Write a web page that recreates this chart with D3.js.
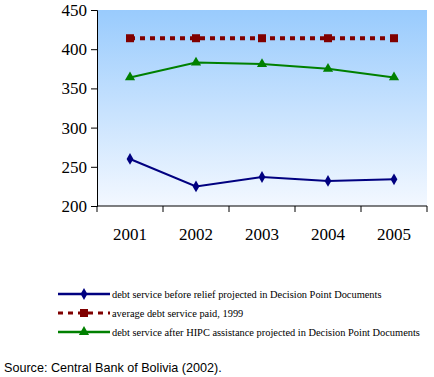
<!DOCTYPE html>
<html>
<head>
<meta charset="utf-8">
<script src="https://cdn.jsdelivr.net/npm/d3@7"></script>
<style>
  body { margin: 0; background: #fff; }
  svg { display: block; }
  .serif { font-family: 'Liberation Serif', 'DejaVu Serif', serif; }
  .sans { font-family: 'Liberation Sans', Arial, sans-serif; }
</style>
</head>
<body>
<div id="chart"></div>
<script>
// donnees
const years = ["2001", "2002", "2003", "2004", "2005"];
const beforeRelief = [260, 225, 237, 232, 234];
const avgPaid1999 = [414, 414, 414, 414, 414];
const afterHipc = [364, 383, 381, 375, 364];
const yTicks = [200, 250, 300, 350, 400, 450];
const legendLabels = [
  "debt service before relief projected in Decision Point Documents",
  "average debt service paid, 1999",
  "debt service after HIPC assistance projected in Decision Point Documents"
];

const width = 434, height = 377;
const margin = { top: 10, left: 97, right: 7 };
const plotBottom = 206;

const svg = d3.select("#chart").append("svg")
  .attr("width", width)
  .attr("height", height);

const defs = svg.append("defs");
const grad = defs.append("linearGradient")
  .attr("id", "bg").attr("x1", 0).attr("y1", 0).attr("x2", 0).attr("y2", 1);
grad.append("stop").attr("offset", "0%").attr("stop-color", "#99cbfd");
grad.append("stop").attr("offset", "100%").attr("stop-color", "#f3f8ff");

const x = d3.scaleBand()
  .domain(years)
  .range([margin.left, width - margin.right]);

const y = d3.scaleLinear()
  .domain([200, 450])
  .range([plotBottom, margin.top]);

// fond degrade
svg.append("rect")
  .attr("x", margin.left).attr("y", margin.top)
  .attr("width", width - margin.right - margin.left)
  .attr("height", plotBottom - margin.top)
  .attr("fill", "url(#bg)");

// axe Y
const yAxis = svg.append("g")
  .attr("transform", "translate(" + margin.left + ",0)")
  .call(d3.axisLeft(y).tickValues(yTicks).tickSize(6).tickPadding(4));
yAxis.attr("font-family", null);
yAxis.selectAll("text")
  .attr("class", "serif")
  .style("font-size", "17px")
  .attr("fill", "#000");

// axe X
const xAxis = svg.append("g")
  .attr("transform", "translate(0," + plotBottom + ")")
  .call(d3.axisBottom(x).tickSize(0).tickPadding(22));
xAxis.attr("font-family", null);
xAxis.select(".domain").remove();
xAxis.selectAll("text")
  .attr("class", "serif")
  .style("font-size", "17px")
  .attr("fill", "#000");

svg.append("g")
  .selectAll("line")
  .data(years.concat(["end"]))
  .enter()
  .append("line")
  .attr("x1", (d, i) => margin.left + i * x.step())
  .attr("x2", (d, i) => margin.left + i * x.step())
  .attr("y1", plotBottom)
  .attr("y2", plotBottom + 6)
  .attr("stroke", "#000");

svg.append("line")
  .attr("x1", margin.left).attr("x2", width - margin.right)
  .attr("y1", plotBottom).attr("y2", plotBottom)
  .attr("stroke", "#000");

const cx = d => x(d) + x.bandwidth() / 2;

const line = d3.line()
  .x((d, i) => cx(years[i]))
  .y(d => y(d));

const series = [
  { values: beforeRelief, color: "#000080", width: 2, dash: null, marker: "diamond" },
  { values: avgPaid1999, color: "#800000", width: 4, dash: "5,5", marker: "square" },
  { values: afterHipc, color: "#008000", width: 2, dash: null, marker: "triangle" }
];

const symbols = {
  diamond: d3.symbol().type(d3.symbolDiamond).size(40),
  square: d3.symbol().type(d3.symbolSquare).size(64),
  triangle: d3.symbol().type(d3.symbolTriangle).size(45)
};

series.forEach(s => {
  svg.append("path")
    .datum(s.values)
    .attr("d", line)
    .attr("fill", "none")
    .attr("stroke", s.color)
    .attr("stroke-width", s.width)
    .attr("stroke-dasharray", s.dash);

  svg.selectAll(null)
    .data(s.values)
    .enter()
    .append("path")
    .attr("transform", (d, i) => "translate(" + cx(years[i]) + "," + y(d) + ")")
    .attr("d", symbols[s.marker])
    .attr("fill", s.color);
});

// legende
const legend = svg.append("g");
const legendY = [294, 313, 332];
series.forEach((s, i) => {
  const g = legend.append("g").attr("transform", "translate(0," + legendY[i] + ")");
  g.append("line")
    .attr("x1", 58).attr("x2", 110)
    .attr("y1", 0).attr("y2", 0)
    .attr("stroke", s.color)
    .attr("stroke-width", s.width === 4 ? 3 : 2.5)
    .attr("stroke-dasharray", s.dash);
  g.append("path")
    .attr("transform", "translate(84,0)")
    .attr("d", symbols[s.marker])
    .attr("fill", s.color);
  g.append("text")
    .attr("class", "serif")
    .attr("x", 112)
    .attr("y", 4)
    .style("font-size", "10.4px")
    .attr("fill", "#000")
    .text(legendLabels[i]);
});

svg.append("text")
  .attr("class", "sans")
  .attr("x", 4)
  .attr("y", 372)
  .style("font-size", "12.6px")
  .attr("fill", "#000")
  .text("Source: Central Bank of Bolivia (2002).");
</script>
</body>
</html>
